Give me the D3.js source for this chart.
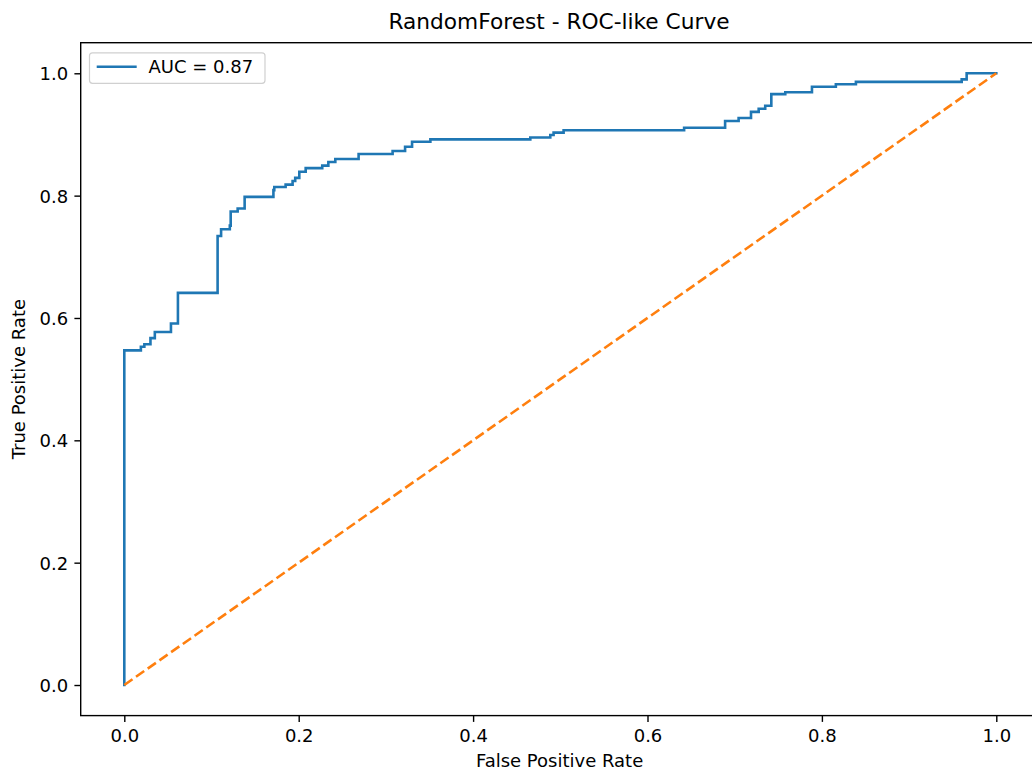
<!DOCTYPE html>
<html>
<head>
<meta charset="utf-8">
<script src="https://cdn.jsdelivr.net/npm/d3@7"></script>
<style>
  html, body { margin: 0; padding: 0; background: #fff; }
  svg { display: block; font-family: "DejaVu Sans", sans-serif; }
</style>
</head>
<body>
<svg id="chart" width="1032" height="771"></svg>
<script>
// ROC curve step points (FPR, TPR)
const fpr = [0, 0, 0.019, 0.023, 0.030, 0.035, 0.0535, 0.0615, 0.107, 0.111, 0.121, 0.122, 0.130, 0.138,
  0.171, 0.172, 0.185, 0.193, 0.196, 0.2007, 0.208, 0.227, 0.234, 0.242, 0.2687, 0.3077, 0.322, 0.330,
  0.351, 0.4656, 0.4885, 0.4923, 0.5038, 0.642, 0.689, 0.7045, 0.7187, 0.7275, 0.735, 0.742, 0.758,
  0.7886, 0.816, 0.839, 0.9603, 0.966, 1.0];
const tpr = [0, 0.547, 0.553, 0.557, 0.567, 0.577, 0.591, 0.641, 0.734, 0.745, 0.751, 0.774, 0.779, 0.798,
  0.809, 0.814, 0.818, 0.824, 0.829, 0.839, 0.845, 0.849, 0.855, 0.860, 0.868, 0.873, 0.880, 0.888,
  0.892, 0.895, 0.899, 0.903, 0.907, 0.911, 0.922, 0.927, 0.937, 0.942, 0.947, 0.966, 0.969,
  0.978, 0.982, 0.986, 0.990, 1.0, 1.0];
const diagX = [0, 1];
const diagY = [0, 1];
const ticks = [0, 0.2, 0.4, 0.6, 0.8, 1.0];
const titleText = "RandomForest - ROC-like Curve";
const xLabel = "False Positive Rate";
const yLabel = "True Positive Rate";
const legendLabel = "AUC = 0.87";

(function () {
const svg = d3.select("#chart");
const pL = 80.7, pR = 1039.9, pT = 42.7, pB = 715.6;

const x = d3.scaleLinear().domain([-0.05, 1.05]).range([pL, pR]);
const y = d3.scaleLinear().domain([-0.05, 1.05]).range([pB, pT]);

svg.append("defs").append("clipPath").attr("id", "plotclip")
  .append("rect").attr("x", pL).attr("y", pT).attr("width", pR - pL).attr("height", pB - pT);

const plot = svg.append("g").attr("clip-path", "url(#plotclip)");

const rocPts = fpr.map((v, i) => [v, tpr[i]]);
const stepLine = d3.line().x(d => x(d[0])).y(d => y(d[1])).curve(d3.curveStepAfter);
plot.append("path").datum(rocPts)
  .attr("d", stepLine)
  .attr("fill", "none").attr("stroke", "#1f77b4").attr("stroke-width", 2.6)
  .attr("stroke-linejoin", "miter").attr("stroke-linecap", "square");

const diagPts = diagX.map((v, i) => [v, diagY[i]]);
plot.append("path").datum(diagPts)
  .attr("d", d3.line().x(d => x(d[0])).y(d => y(d[1])))
  .attr("fill", "none").attr("stroke", "#ff7f0e").attr("stroke-width", 2.6)
  .attr("stroke-dasharray", "10,4.3");

// axes
const fmt = d3.format(".1f");
const xAxis = svg.append("g").attr("transform", `translate(0,${pB})`)
  .call(d3.axisBottom(x).tickValues(ticks).tickFormat(fmt).tickSize(6.3).tickPadding(6.3));
const yAxis = svg.append("g").attr("transform", `translate(${pL},0)`)
  .call(d3.axisLeft(y).tickValues(ticks).tickFormat(fmt).tickSize(6.3).tickPadding(6.3));
[xAxis, yAxis].forEach(a => {
  a.select(".domain").remove();
  a.selectAll(".tick line").attr("stroke", "#000").attr("stroke-width", 1.4);
  a.selectAll(".tick text").attr("fill", "#000").style("font-size", "18px")
    .style("font-family", "'DejaVu Sans', sans-serif");
});
xAxis.selectAll(".tick text").attr("dy", "0.71em").attr("y", 14);
yAxis.selectAll(".tick text").attr("dy", "0.36em");

// frame
svg.append("rect").attr("x", pL).attr("y", pT).attr("width", pR - pL).attr("height", pB - pT)
  .attr("fill", "none").attr("stroke", "#000").attr("stroke-width", 1.4);

// title and labels
svg.append("text").attr("x", 559).attr("y", 28.5)
  .attr("text-anchor", "middle").style("font-size", "21.7px").attr("fill", "#000").text(titleText);
svg.append("text").attr("x", 559.6).attr("y", 766.6)
  .attr("text-anchor", "middle").style("font-size", "18px").attr("fill", "#000").text(xLabel);
svg.append("text").attr("transform", `translate(25,${(pT + pB) / 2}) rotate(-90)`)
  .attr("text-anchor", "middle").style("font-size", "18px").attr("fill", "#000").text(yLabel);

// legend
const lg = svg.append("g");
lg.append("rect").attr("x", 89.5).attr("y", 52.8).attr("width", 175.5).attr("height", 30.5)
  .attr("rx", 3).attr("fill", "#fff").attr("fill-opacity", 0.8).attr("stroke", "#d0d0d0").attr("stroke-width", 1.2);
lg.append("line").attr("x1", 96.7).attr("x2", 136.7).attr("y1", 66.7).attr("y2", 66.7)
  .attr("stroke", "#1f77b4").attr("stroke-width", 2.6);
lg.append("text").attr("x", 148.5).attr("y", 73.3).style("font-size", "18px").attr("fill", "#000").text(legendLabel);
})();
</script>
</body>
</html>
